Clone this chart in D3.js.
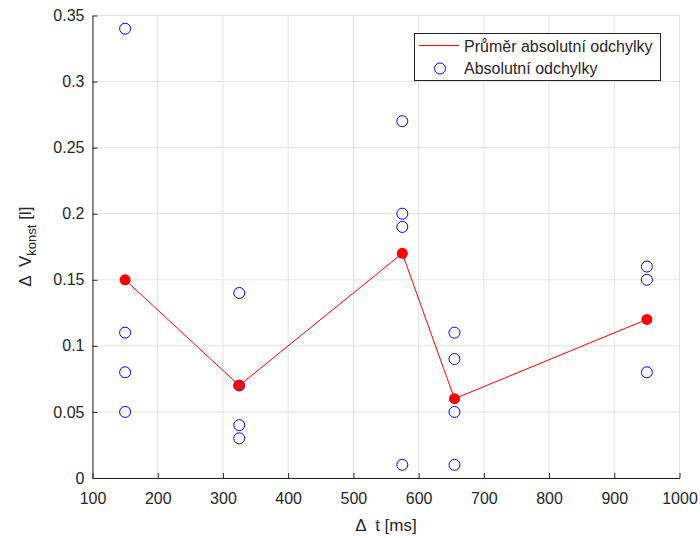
<!DOCTYPE html>
<html>
<head>
<meta charset="utf-8">
<script src="https://cdn.jsdelivr.net/npm/d3@7"></script>
<style>
  body { margin: 0; background: #fff; }
  text { font-family: "Liberation Sans", Arial, sans-serif; fill: #262626; }
</style>
</head>
<body>
<div id="graph"></div>
<script>
(function(){
  "use strict";

  // mean deviation per time step
  var meanT = [150, 325, 575, 655, 950];
  var meanV = [0.15, 0.07, 0.17, 0.06, 0.12];
  // individual absolute deviations
  var absT = [150, 150, 150, 150, 325, 325, 325, 325, 575, 575, 575, 575, 655, 655, 655, 655, 950, 950, 950];
  var absV = [0.34, 0.11, 0.08, 0.05, 0.14, 0.07, 0.04, 0.03, 0.27, 0.20, 0.19, 0.01, 0.11, 0.09, 0.05, 0.01, 0.16, 0.15, 0.08];
  var xTicks = [100, 200, 300, 400, 500, 600, 700, 800, 900, 1000];
  var yTicks = [0, 0.05, 0.1, 0.15, 0.2, 0.25, 0.3, 0.35];

  var width = 700, height = 538;
  var left = 92.5, right = 679.5, top = 15.5, bottom = 478;

  var x = d3.scaleLinear().domain([100, 1000]).range([left, right]);
  var y = d3.scaleLinear().domain([0, 0.35]).range([bottom, top]);

  var svg = d3.select("#graph").append("svg")
    .attr("width", width)
    .attr("height", height);

  // grid
  var grid = svg.append("g");
  grid.selectAll("line.gx").data(xTicks).enter().append("line")
    .attr("x1", function(d){ return x(d); }).attr("x2", function(d){ return x(d); })
    .attr("y1", top).attr("y2", bottom)
    .attr("stroke", "#e3e3e3").attr("stroke-width", 1);
  grid.selectAll("line.gy").data(yTicks).enter().append("line")
    .attr("y1", function(d){ return y(d); }).attr("y2", function(d){ return y(d); })
    .attr("x1", left).attr("x2", right)
    .attr("stroke", "#e3e3e3").attr("stroke-width", 1);

  // axes
  var xAxis = d3.axisBottom(x).tickValues(xTicks).tickSizeInner(-5).tickSizeOuter(0)
    .tickPadding(15).tickFormat(d3.format("d"));
  var yAxis = d3.axisLeft(y).tickValues(yTicks).tickSizeInner(-5).tickSizeOuter(0)
    .tickPadding(8).tickFormat(function(d){ return d3.format("~g")(d); });

  var gx = svg.append("g").attr("transform", "translate(0," + bottom + ")").call(xAxis);
  var gy = svg.append("g").attr("transform", "translate(" + left + ",0)").call(yAxis);
  [gx, gy].forEach(function(g){
    g.select(".domain").attr("stroke", "#262626");
    g.selectAll(".tick line").attr("stroke", "#262626");
    g.selectAll(".tick text").attr("font-size", 16).attr("fill", "#262626")
      .attr("font-family", "Liberation Sans, Arial, sans-serif");
  });

  // mean line
  var line = d3.line()
    .x(function(d){ return x(d[0]); })
    .y(function(d){ return y(d[1]); });
  var meanData = meanT.map(function(t, i){ return [t, meanV[i]]; });
  var absData = absT.map(function(t, i){ return [t, absV[i]]; });

  svg.append("path")
    .attr("d", line(meanData))
    .attr("fill", "none")
    .attr("stroke", "#ff0000")
    .attr("stroke-width", 1);

  svg.append("g").selectAll("circle").data(absData).enter().append("circle")
    .attr("cx", function(d){ return x(d[0]); })
    .attr("cy", function(d){ return y(d[1]); })
    .attr("r", 5.5)
    .attr("fill", "none")
    .attr("stroke", "#0000ff")
    .attr("stroke-width", 1);

  svg.append("g").selectAll("circle").data(meanData).enter().append("circle")
    .attr("cx", function(d){ return x(d[0]); })
    .attr("cy", function(d){ return y(d[1]); })
    .attr("r", 5.5)
    .attr("fill", "#ff0000");

  // axis labels
  svg.append("text")
    .attr("x", (left + right) / 2).attr("y", 531)
    .attr("text-anchor", "middle")
    .attr("font-size", 17)
    .attr("xml:space", "preserve")
    .text("\u0394  t [ms]");

  var yl = svg.append("text")
    .attr("transform", "translate(31," + ((top + bottom) / 2) + ") rotate(-90)")
    .attr("text-anchor", "middle")
    .attr("font-size", 17)
    .attr("xml:space", "preserve");
  yl.append("tspan").text("\u0394  V");
  yl.append("tspan").attr("font-size", 13).attr("dy", 5).text("konst");
  yl.append("tspan").attr("dy", -5).text(" [l]");

  // legend
  var lg = svg.append("g");
  lg.append("rect")
    .attr("x", 414.5).attr("y", 33.5).attr("width", 246).attr("height", 47)
    .attr("fill", "#fff").attr("stroke", "#262626").attr("stroke-width", 1);
  lg.append("line")
    .attr("x1", 419).attr("x2", 459).attr("y1", 45.5).attr("y2", 45.5)
    .attr("stroke", "#ff0000").attr("stroke-width", 1);
  lg.append("circle")
    .attr("cx", 440).attr("cy", 68.5).attr("r", 5.5)
    .attr("fill", "none").attr("stroke", "#0000ff");
  lg.append("text").attr("x", 464).attr("y", 52).attr("font-size", 16).text("Pr\u016fm\u011br absolutn\u00ed odchylky");
  lg.append("text").attr("x", 464).attr("y", 74).attr("font-size", 16).text("Absolutn\u00ed odchylky");
})();
</script>
</body>
</html>
